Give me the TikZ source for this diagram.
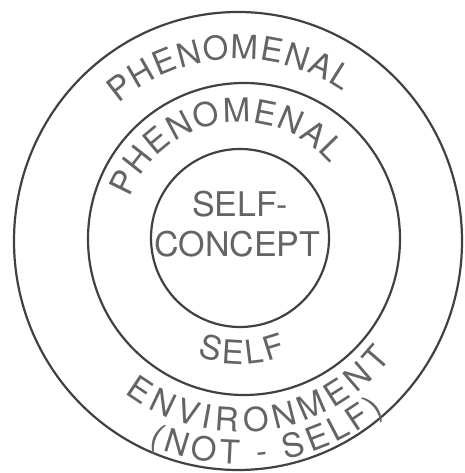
\documentclass[tikz,border=0pt]{standalone}
\usepackage{fontspec}
\setmainfont{TeX Gyre Heros}
\usetikzlibrary{decorations.text}
\definecolor{ink}{RGB}{65,65,65}
\definecolor{txt}{RGB}{100,100,100}
\tikzset{
  ring/.style={draw=ink, line width=2.2pt},
  bigtext/.style={text=txt, font=\fontsize{34}{34}\selectfont, anchor=base, inner sep=0pt},
  arctext/.style={decorate, decoration={text along path, text align=fit to path,
      text color=txt, text format delimiters={|}{|},
      text={|\fontsize{33}{33}\selectfont|#1}}},
}
\begin{document}
\begin{tikzpicture}[x=1pt,y=1pt]
\useasboundingbox (0,0) rectangle (464,473);
\coordinate (c) at (240,233);
\draw[ring] (238,232) ellipse [x radius=224, y radius=229];
\draw[ring] (244,234) circle [radius=156];
\draw[ring] (240,235) circle [radius=89];
\node[bigtext] (selfa) at (240,256) {SELF-};
\node[bigtext] (concept) at (237.5,216) {CONCEPT};
\path[arctext=PHENOMENAL] (238,232) ++(131:182) arc[start angle=131, end angle=55, radius=182];
\path[arctext=PHENOMENAL] (240,233) ++(159:118) arc[start angle=159, end angle=40, radius=118];
\path[arctext=SELF] (240,233) ++(-110:124) arc[start angle=-110, end angle=-68, radius=124];
\path[arctext=ENVIRONMENT] (240,233) ++(-127:192) arc[start angle=-127, end angle=-38, radius=192];
\path[arctext={(NOT - SELF)}] (240,233) ++(-114:224) arc[start angle=-114, end angle=-50, radius=224];
\end{tikzpicture}
\end{document}
